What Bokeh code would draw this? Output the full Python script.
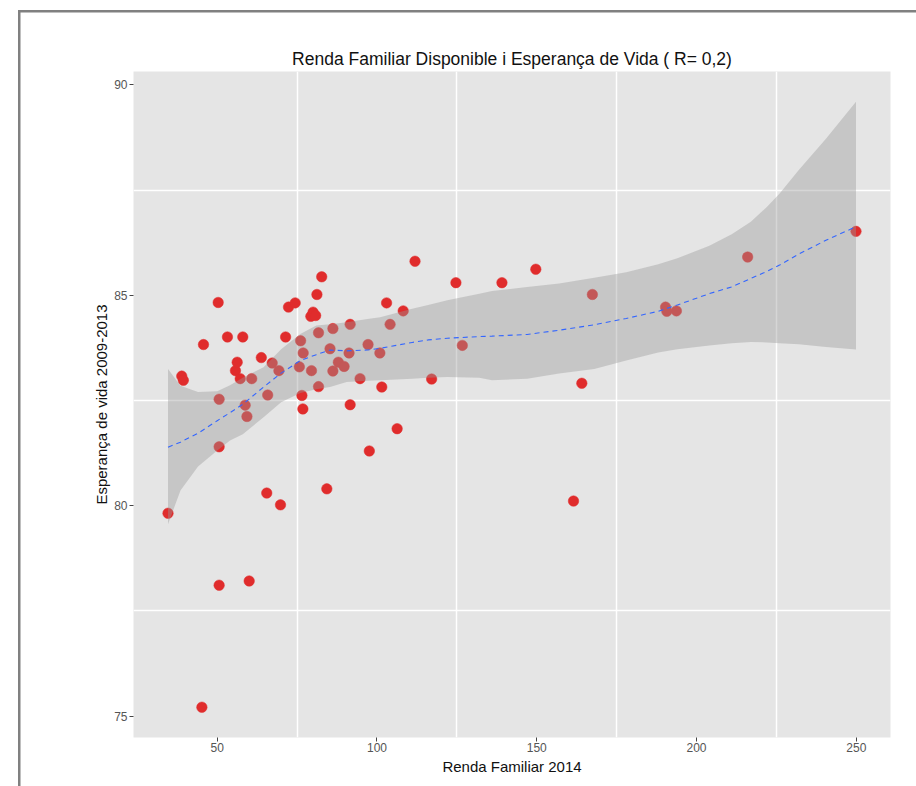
from bokeh.plotting import figure
from bokeh.models import Range1d, FixedTicker, ColumnDataSource
from bokeh.embed import file_html
from bokeh.resources import INLINE

# ---- data ----
renda = [34.6, 38.9, 39.4, 45.2, 45.7, 50.3, 50.6, 50.6, 50.6, 53.2,
         58.0, 55.7, 56.25, 57.2, 60.8, 58.75, 59.3, 60.0, 63.8, 65.8,
         65.5, 67.2, 69.3, 69.8, 71.4, 72.3, 74.4, 76.1, 76.9, 75.7,
         76.5, 76.8, 79.3, 80.0, 80.8, 81.2, 82.7, 81.7, 79.5, 81.7,
         84.3, 85.3, 86.2, 86.2, 87.9, 89.7, 91.25, 91.6, 91.6, 94.7,
         97.2, 97.6, 100.9, 101.5, 103.0, 104.1, 106.3, 108.2, 111.9, 117.1,
         124.7, 126.7, 139.1, 149.7, 161.5, 164.1, 167.4, 190.3, 190.7, 193.7,
         216.0, 249.9]
esperanca = [79.82, 83.08, 82.98, 75.21, 83.83, 84.83, 82.53, 81.40, 78.11, 84.01,
             84.01, 83.21, 83.41, 83.02, 83.02, 82.39, 82.12, 78.21, 83.52, 82.63,
             80.30, 83.39, 83.21, 80.02, 84.01, 84.72, 84.82, 83.92, 83.63, 83.30,
             82.62, 82.30, 84.50, 84.60, 84.52, 85.02, 85.44, 84.11, 83.21, 82.83,
             80.40, 83.73, 84.21, 83.20, 83.41, 83.31, 83.63, 84.31, 82.40, 83.02,
             83.83, 81.30, 83.63, 82.82, 84.82, 84.31, 81.83, 84.63, 85.81, 83.01,
             85.30, 83.81, 85.30, 85.62, 80.11, 82.91, 85.02, 84.72, 84.62, 84.63,
             85.91, 86.52]

smooth_x = [34.6, 38.5, 44, 50, 54, 58, 64.5, 70, 76, 81,
            85.3, 90.5, 97, 101, 106, 111, 116, 122, 132, 136,
            147, 157, 168, 178, 188, 194, 204, 211, 217, 222,
            226, 232, 240.5, 249.9]
smooth_fit = [81.39, 81.51, 81.72, 82.02, 82.21, 82.41, 82.82, 83.15, 83.45, 83.59,
              83.70, 83.68, 83.70, 83.74, 83.81, 83.88, 83.94, 83.98, 84.02, 84.03,
              84.07, 84.17, 84.30, 84.45, 84.62, 84.77, 85.04, 85.20, 85.40, 85.57,
              85.72, 85.98, 86.31, 86.63]
smooth_upper = [83.25, 82.85, 82.70, 82.72, 82.86, 83.04, 83.29, 83.72, 84.08, 84.28,
                84.31, 84.36, 84.44, 84.48, 84.58, 84.68, 84.77, 84.88, 85.04, 85.10,
                85.20, 85.28, 85.42, 85.55, 85.74, 85.88, 86.18, 86.45, 86.75, 87.10,
                87.42, 87.98, 88.72, 89.60]
smooth_lower = [79.56, 80.36, 80.93, 81.31, 81.55, 81.70, 82.10, 82.46, 82.68, 82.77,
                82.82, 82.94, 82.97, 82.98, 83.00, 83.02, 83.04, 83.06, 83.04, 82.98,
                83.02, 83.14, 83.25, 83.45, 83.64, 83.72, 83.81, 83.86, 83.89, 83.88,
                83.86, 83.84, 83.77, 83.71]

x_ticks = [50, 100, 150, 200, 250]
y_ticks = [75, 80, 85, 90]
x_grid = [75, 125, 175, 225]
y_grid = [77.5, 82.5, 87.5]

title_text = "Renda Familiar Disponible i Esperança de Vida ( R= 0,2)"
x_label = "Renda Familiar 2014"
y_label = "Esperança de vida 2009-2013"

# ---- figure ----
p = figure(width=916, height=786, output_backend="svg", toolbar_location=None,
           x_range=Range1d(23.8, 260.7), y_range=Range1d(74.49, 90.32),
           min_border_left=133, min_border_right=26, min_border_top=71,
           min_border_bottom=49, title=title_text)
p.background_fill_color = "#e5e5e5"
p.border_fill_color = "white"
p.border_fill_alpha = 0
p.outline_line_color = None

p.title.align = "center"
p.title.text_font = "Liberation Sans"
p.title.text_font_size = "17.5px"
p.title.text_font_style = "normal"
p.title.text_color = "#111111"
p.title.standoff = 5

p.xgrid.ticker = FixedTicker(ticks=x_grid)
p.ygrid.ticker = FixedTicker(ticks=y_grid)
for g in (p.xgrid, p.ygrid):
    g.grid_line_color = "white"
    g.grid_line_width = 1.5

p.xaxis.ticker = FixedTicker(ticks=x_ticks)
p.yaxis.ticker = FixedTicker(ticks=y_ticks)
p.xaxis.axis_label = x_label
p.yaxis.axis_label = y_label
for ax in (p.xaxis, p.yaxis):
    ax.axis_line_color = None
    ax.major_tick_line_color = "#444444"
    ax.major_tick_in = 0
    ax.major_tick_out = 4
    ax.minor_tick_line_color = None
    ax.major_label_text_color = "#555555"
    ax.major_label_text_font = "Liberation Sans"
    ax.major_label_text_font_size = "12px"
    ax.axis_label_text_font = "Liberation Sans"
    ax.axis_label_text_font_size = "15px"
    ax.axis_label_text_font_style = "normal"
    ax.axis_label_text_color = "#111111"
p.xaxis.major_label_standoff = 1
p.xaxis.axis_label_standoff = 3
p.yaxis.major_label_standoff = 2
p.yaxis.axis_label_standoff = 1

pts = ColumnDataSource(dict(x=renda, y=esperanca))
p.scatter("x", "y", source=pts, size=10.5, fill_color="#e02c2c",
          line_color="#e02c2c", line_width=0.5)

band = ColumnDataSource(dict(x=smooth_x, lo=smooth_lower, hi=smooth_upper, fit=smooth_fit))
p.varea(x="x", y1="lo", y2="hi", source=band, fill_color="#999999", fill_alpha=0.4)
p.line(x="x", y="fit", source=band, line_color="#3366FF", line_width=1.1,
       line_dash="5 4")

# gray window frame of the original screenshot (left and top edges)
p.styles = {"box-shadow": "inset 18px 10px 0 0 #ffffff, inset 20.5px 12.5px 0 0 #808080"}

open("out.html", "w").write(file_html(p, INLINE))
